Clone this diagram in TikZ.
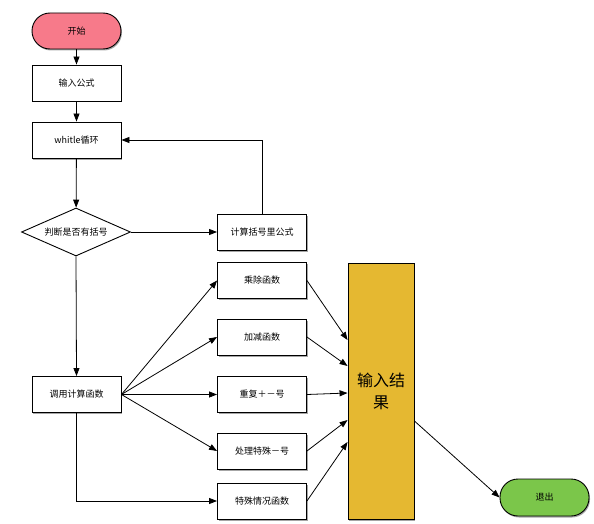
\documentclass[tikz,border=0pt]{standalone}
\usepackage{fontspec}
\setmainfont{Noto Sans CJK SC}
\usetikzlibrary{shapes.geometric,arrows.meta,shadows}
\definecolor{startpink}{HTML}{F77A8A}
\definecolor{endgreen}{HTML}{7BC64A}
\definecolor{resyellow}{HTML}{E5B831}
\begin{document}
\begin{tikzpicture}[x=1pt,y=-1pt,
  shad/.style={drop shadow={shadow xshift=1pt,shadow yshift=-1.5pt,opacity=0.35,fill=black}},
  procbox/.style={draw=black,line width=0.9pt,fill=white,minimum width=89pt,minimum height=36pt,inner sep=0pt,font=\fontsize{9}{11}\selectfont,shad},
  termbox/.style={procbox,rounded corners=18pt},
  decbox/.style={draw=black,line width=0.9pt,fill=white,diamond,aspect=2.27,minimum width=109pt,minimum height=48pt,inner sep=0pt,font=\fontsize{9}{11}\selectfont},
  arr/.style={-{Triangle[length=8pt,width=6pt]},line width=0.8pt,draw=black}]
\useasboundingbox (0,0) rectangle (594,524);
\node[termbox,fill=startpink] (start) at (76.5,31) {开始};
\node[procbox] (input) at (76.5,83) {输入公式};
\node[procbox] (loop) at (76.5,140) {whitle循环};
\node[decbox] (dec) at (76,232) {判断是否有括号};
\node[procbox] (brack) at (262,232) {计算括号里公式};
\node[procbox] (call) at (76.5,394.5) {调用计算函数};
\node[procbox] (muldiv) at (262,280.5) {乘除函数};
\node[procbox] (addsub) at (262,337) {加减函数};
\node[procbox] (rep) at (262,394.5) {重复＋－号};
\node[procbox] (neg) at (262,451) {处理特殊－号};
\node[procbox] (spec) at (262,501) {特殊情况函数};
\node[draw=black,line width=0.9pt,fill=resyellow,minimum width=66pt,minimum height=256pt,inner sep=0pt,align=center,font=\fontsize{16}{22}\selectfont,shad] (res) at (381,391) {输入结\\果};
\node[termbox,fill=endgreen,minimum height=37pt] (exit) at (544.5,497.5) {退出};
\draw[arr] (start) -- (input);
\draw[arr] (input) -- (loop);
\draw[arr] (loop) -- (dec);
\draw[arr] (dec) -- (brack);
\draw[arr] (brack.north) |- (loop.east);
\draw[arr] (dec.south) -- (call.north);
\draw[arr] (call.east) -- (muldiv.west);
\draw[arr] (call.east) -- (addsub.west);
\draw[arr] (call.east) -- (rep.west);
\draw[arr] (call.east) -- (neg.west);
\draw[arr] (call.south) |- (spec.west);
\draw[arr] (muldiv.east) -- (res.west |- 0,340);
\draw[arr] (addsub.east) -- (res.west |- 0,366);
\draw[arr] (rep.east) -- (res.west |- 0,393);
\draw[arr] (neg.east) -- (res.west |- 0,420);
\draw[arr] (spec.east) -- (res.west |- 0,442);
\draw[arr] (res.east |- 0,421) -- (exit.west);
\end{tikzpicture}
\end{document}
